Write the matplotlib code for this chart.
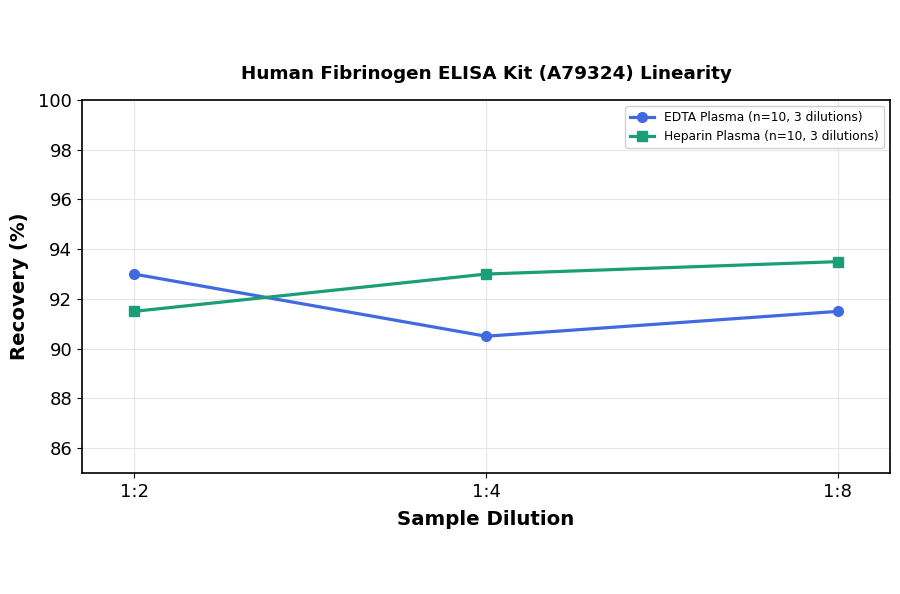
import matplotlib
matplotlib.use("Agg")
import matplotlib.pyplot as plt

dilutions = ["1:2", "1:4", "1:8"]
edta = [93.0, 90.5, 91.5]
heparin = [91.5, 93.0, 93.5]
yticks = [86, 88, 90, 92, 94, 96, 98, 100]

fig = plt.figure(figsize=(9, 5.94), dpi=100)
ax = fig.add_axes([82/900, 1 - 473/594, 808/900, 373/594])
x = list(range(len(dilutions)))
ax.plot(x, edta, color="#4169e1", marker="o", markersize=7, linewidth=2.3,
        label="EDTA Plasma (n=10, 3 dilutions)")
ax.plot(x, heparin, color="#1b9e77", marker="s", markersize=7, linewidth=2.3,
        label="Heparin Plasma (n=10, 3 dilutions)")
ax.set_xticks(x)
ax.set_xticklabels(dilutions, fontsize=13)
ax.set_yticks(yticks)
ax.tick_params(axis="y", labelsize=13)
ax.set_ylim(85, 100)
ax.set_xlim(-0.148, 2.148)
ax.grid(True, color="#e6e6e6", linewidth=0.8)
ax.set_axisbelow(True)
for s in ax.spines.values():
    s.set_linewidth(1.2)
ax.set_xlabel("Sample Dilution", fontsize=14.2, fontweight="bold", labelpad=7)
ax.set_ylabel("Recovery (%)", fontsize=14.2, fontweight="bold", labelpad=7)
ax.set_title("Human Fibrinogen ELISA Kit (A79324) Linearity", fontsize=13.2,
             fontweight="bold", pad=15)
ax.legend(loc="upper right", fontsize=8.8, framealpha=0.9)
fig.savefig("out.png", dpi=100)
